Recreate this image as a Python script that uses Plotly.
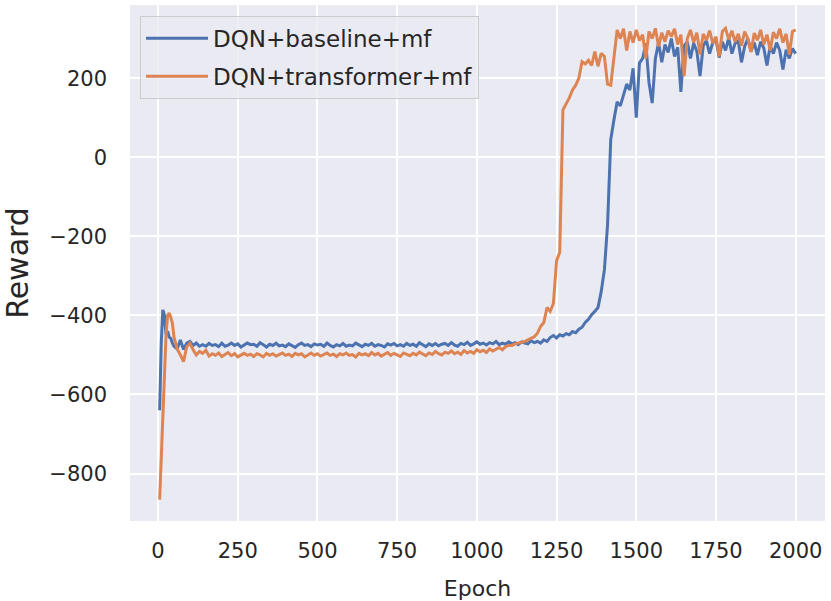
import plotly.graph_objects as go

# epochs (finer steps at the very start, then every 10)
epochs = [5, 10, 15, 20, 25, 30, 35, 40, 45] + list(range(50, 2001, 10))

baseline_reward = [
    -640, -470, -386, -400, -448, -440, -455, -458, -470,
    -478, -485, -462, -486, -470, -466, -476, -470, -478, -474,
    -478, -471, -476, -474, -479, -470, -478, -475, -470, -476,
    -472, -480, -476, -470, -474, -473, -478, -469, -474, -480,
    -473, -476, -470, -477, -475, -479, -472, -476, -481, -474,
    -470, -476, -474, -479, -472, -475, -473, -478, -470, -476,
    -480, -474, -477, -471, -478, -475, -477, -470, -475, -479,
    -473, -476, -471, -478, -474, -476, -480, -472, -475, -471,
    -477, -474, -478, -471, -476, -473, -478, -469, -474, -479,
    -472, -476, -471, -477, -473, -471, -476, -469, -475, -478,
    -471, -474, -468, -476, -472, -467, -473, -470, -475, -469,
    -472, -466, -474, -470, -473, -467, -472, -469, -474, -467,
    -470, -472, -464, -469, -466, -470, -462, -466, -456, -451,
    -457, -449, -452, -446, -449, -441, -444, -435, -430, -418,
    -410, -398, -390, -380, -340, -285, -170, 45, 95, 140,
    130, 160, 185, 170, 225, 100, 238, 250, 288, 188,
    137, 250, 290, 240, 285, 265, 300, 255, 278, 165,
    282, 292, 250, 288, 268, 205, 282, 295, 262, 290,
    298, 252, 292, 270, 302, 262, 288, 294, 240, 280,
    300, 268, 290, 258, 292, 276, 232, 282, 262, 290,
    270, 222, 272, 250, 275, 262,
]

transformer_reward = [
    -866, -760, -620, -530, -450, -400, -394, -405, -420,
    -455, -485, -500, -517, -479, -470, -487, -500, -491, -496,
    -488, -503, -497, -501, -495, -504, -499, -494, -502, -497,
    -505, -500, -496, -501, -498, -504, -497, -500, -505, -496,
    -501, -497, -503, -499, -495, -501, -498, -504, -496, -500,
    -497, -505, -499, -495, -501, -497, -503, -500, -495, -501,
    -498, -504, -497, -500, -495, -501, -499, -505, -496, -500,
    -497, -502, -494, -500, -496, -503, -498, -494, -501, -496,
    -500, -504, -495, -499, -502, -496, -500, -493, -498, -502,
    -495, -499, -491, -497, -500, -493, -496, -490, -497, -493,
    -499, -489, -495, -491, -496, -487, -492, -488, -494, -485,
    -490, -486, -481, -487, -479, -476, -476, -472, -470, -468,
    -466, -462, -458, -454, -445, -428, -418, -380, -390, -370,
    -262, -240, 120, 135, 150, 170, 182, 200, 242, 236,
    245, 232, 267, 230, 263, 255, 185, 182, 255, 322,
    300, 325, 270, 318, 290, 322, 295, 310, 250, 318,
    300, 326, 280, 315, 292, 320, 305, 325, 285, 310,
    205, 300, 322, 290, 315, 260, 312, 296, 320, 288,
    305, 255, 318, 326, 298, 320, 292, 312, 282, 318,
    300, 266, 314, 296, 322, 285, 310, 270, 316, 300,
    325, 290, 312, 260, 318, 322,
]

x_ticks = [0, 250, 500, 750, 1000, 1250, 1500, 1750, 2000]
y_ticks = [-800, -600, -400, -200, 0, 200]
y_tick_text = ["\u2212800", "\u2212600", "\u2212400", "\u2212200", "0", "200"]

text_color = "#262626"

fig = go.Figure()

fig.add_trace(go.Scatter(
    x=epochs, y=baseline_reward,
    mode="lines", name="DQN+baseline+mf",
    line=dict(color="#4C72B0", width=3),
    legendgroup="a",
))
fig.add_trace(go.Scatter(
    x=epochs, y=transformer_reward,
    mode="lines", name="DQN+transformer+mf",
    line=dict(color="#DD8452", width=3),
    legendgroup="b",
))

fig.update_layout(
    width=831, height=601,
    margin=dict(l=130, r=6, t=5, b=80),
    paper_bgcolor="white",
    plot_bgcolor="#EAEAF2",
    font=dict(family="DejaVu Sans", size=21, color=text_color),
    showlegend=True,
    legend=dict(
        x=0.0144, y=0.979, xanchor="left", yanchor="top",
        bgcolor="rgba(234,234,242,0.8)",
        bordercolor="#cccccc", borderwidth=1,
        font=dict(size=23, color=text_color),
        itemwidth=62,
        tracegroupgap=5,
    ),
    xaxis=dict(
        range=[-88, 2092],
        tickvals=x_ticks,
        showgrid=True, gridcolor="white", gridwidth=1.5,
        zeroline=False, showline=False,
        automargin=False,
        ticklabelstandoff=15,
        title=dict(text="Epoch", font=dict(size=22), standoff=18),
    ),
    yaxis=dict(
        range=[-920, 385],
        tickvals=y_ticks, ticktext=y_tick_text,
        showgrid=True, gridcolor="white", gridwidth=1.5,
        zeroline=False, showline=False,
        automargin=False,
        ticklabelstandoff=22,
        title=dict(text="Reward", font=dict(size=30), standoff=19),
    ),
)

# drop the browser's default body margin so the figure sits at the page corner
fig.write_html(
    "out.html",
    config={"displayModeBar": False},
    post_script="document.body.style.margin='0';",
)
